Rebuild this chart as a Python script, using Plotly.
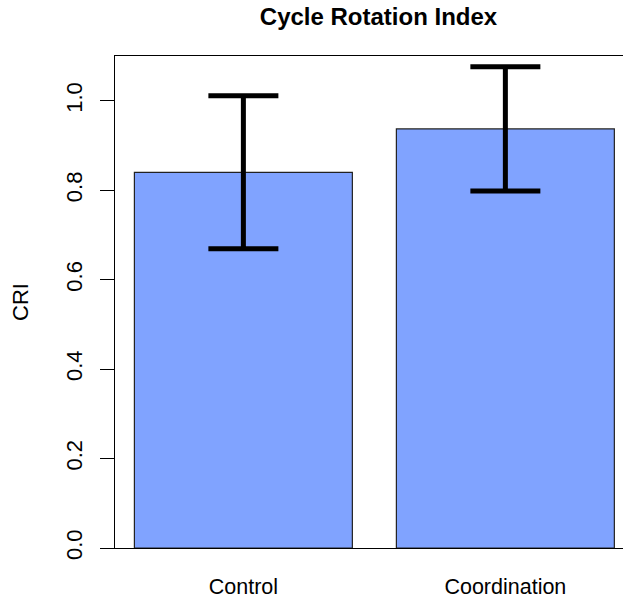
import plotly.graph_objects as go

# Cycle Rotation Index by condition (mean with error half-widths)
groups = ["Control", "Coordination"]
cri_mean = [0.840, 0.937]
cri_err = [0.171, 0.139]

y_ticks = [0.0, 0.2, 0.4, 0.6, 0.8, 1.0]
y_tick_text = ["0.0", "0.2", "0.4", "0.6", "0.8", "1.0"]

FONT = "Liberation Sans, Arial, sans-serif"

fig = go.Figure(
    go.Bar(
        x=groups,
        y=cri_mean,
        marker=dict(color="#80a3ff", line=dict(color="#222222", width=1.2)),
        error_y=dict(
            type="data",
            array=cri_err,
            symmetric=True,
            color="black",
            thickness=5,
            width=35,
        ),
    )
)

fig.update_layout(
    width=623,
    height=600,
    margin=dict(l=115, r=0, t=56, b=52),
    paper_bgcolor="white",
    plot_bgcolor="white",
    bargap=0.168,
    showlegend=False,
    font=dict(family=FONT, size=22, color="black"),
    title=dict(
        text="<b>Cycle Rotation Index</b>",
        font=dict(family=FONT, size=24, color="black"),
        x=378.5 / 623,
        xanchor="center",
        xref="container",
        y=1 - 8 / 600,
        yanchor="top",
        yref="container",
    ),
)

fig.update_xaxes(
    range=[-0.49, 1.449],
    showline=True,
    mirror=True,
    linecolor="black",
    linewidth=1.3,
    ticks="",
    showgrid=False,
    zeroline=False,
    ticklabelstandoff=19,
    tickfont=dict(family=FONT, size=21.5),
    automargin=False,
)

fig.update_yaxes(
    range=[0, 1.1],
    tickvals=y_ticks,
    ticktext=y_tick_text,
    tickangle=-90,
    ticks="outside",
    ticklen=14,
    tickwidth=1.3,
    tickcolor="black",
    showline=True,
    mirror=False,
    linecolor="black",
    linewidth=1.3,
    showgrid=False,
    zeroline=False,
    ticklabelstandoff=9,
    tickfont=dict(family=FONT, size=22),
    title=dict(text="CRI", standoff=27, font=dict(family=FONT, size=22)),
    automargin=False,
)

fig.write_html("out.html")
